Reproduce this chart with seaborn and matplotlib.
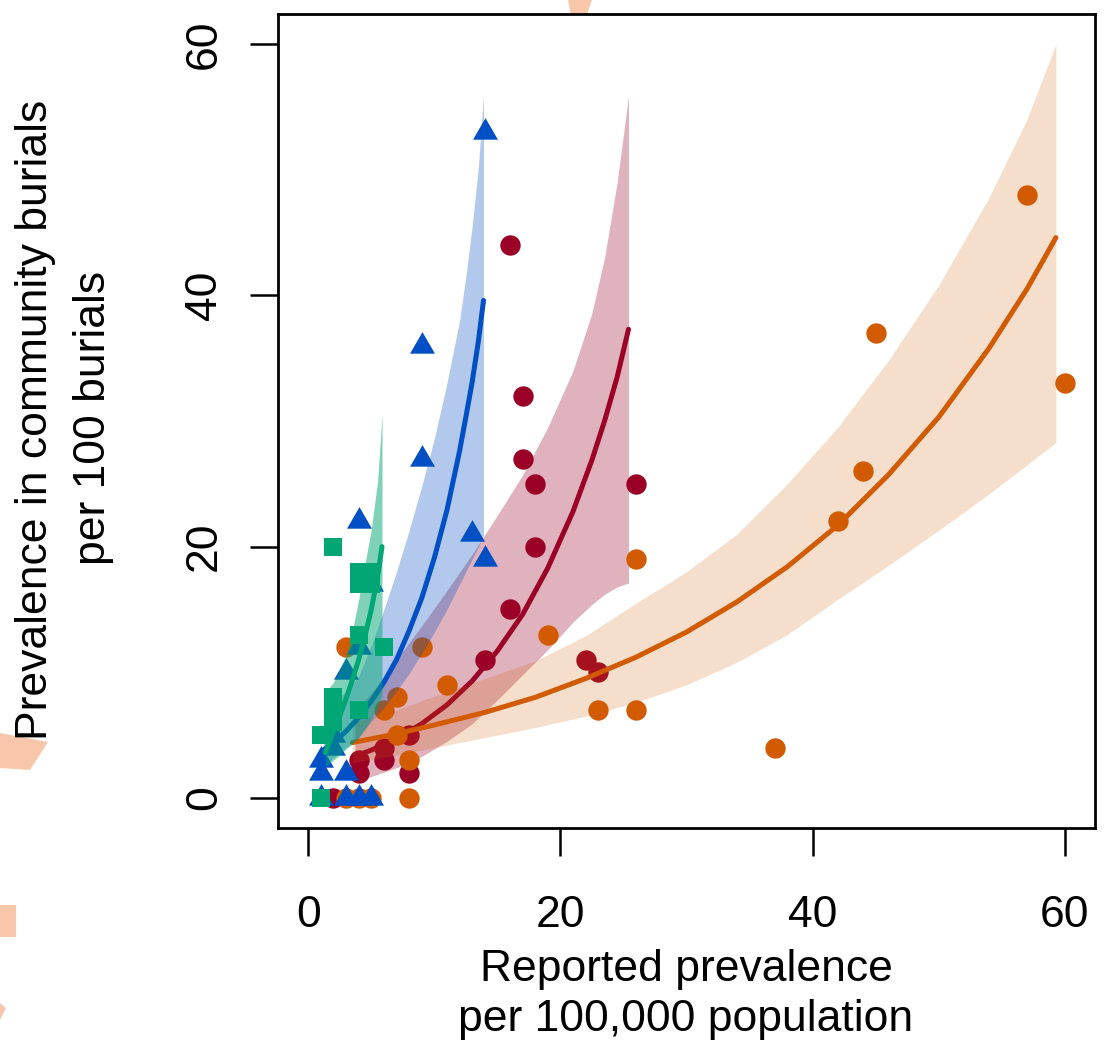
import numpy as np
import pandas as pd
import seaborn as sns
import matplotlib
matplotlib.use("Agg")
from matplotlib import pyplot as plt
from matplotlib.patches import Polygon
from matplotlib.path import Path

orange_x = [57, 60, 45, 44, 42, 37, 26, 26, 23, 19, 11, 9, 7, 6, 7, 8, 8, 3, 3, 4, 5]
orange_y = [48, 33, 37, 26, 22, 4, 19, 7, 7, 13, 9, 12, 8, 7, 5, 3, 0, 12, 0, 0, 0]
red_x = [16, 17, 17, 18, 18, 16, 14, 26, 22, 23, 8, 8, 6, 6, 4, 4, 2]
red_y = [44, 32, 27, 25, 20, 15, 11, 25, 11, 10, 5, 2, 4, 3, 3, 2, 0]
blue_x = [14, 9, 9, 13, 14, 4, 5, 4, 3, 1, 1, 2, 2, 3, 1, 3, 4, 5]
blue_y = [53, 36, 27, 21, 19, 22, 17, 12, 10, 3, 2, 5, 4, 2, 0, 0, 0, 0]
green_x = [2, 4, 5, 4, 5, 4, 6, 2, 2, 2, 4, 1, 1]
green_y = [20, 18, 18, 17, 17, 13, 12, 8, 7, 6, 7, 5, 0]

# fitted curves and confidence bands
orange_fx = [3.5, 7, 10, 14, 18, 22, 26, 30, 34, 38, 42, 46, 50, 54, 57, 59.3]
orange_fit = [4.4, 5.1, 5.8, 6.8, 8.0, 9.5, 11.2, 13.2, 15.6, 18.4, 21.7, 25.7, 30.3, 35.8, 40.5, 44.6]
orange_lo = [2.8, 3.4, 4.0, 4.8, 5.6, 6.5, 7.6, 9.0, 10.8, 13.0, 15.8, 18.5, 21.3, 24.2, 26.5, 28.3]
orange_hi = [6.0, 7.0, 8.1, 9.5, 10.9, 12.9, 15.5, 18.0, 21.0, 25.0, 29.5, 34.8, 40.8, 47.8, 54.0, 60.0]

red_fx = [3.7, 5, 7, 9, 11, 13, 15, 17, 19, 21, 22.5, 23.5, 24.5, 25.4]
red_fit = [3.3, 3.8, 4.7, 5.9, 7.4, 9.3, 11.7, 14.6, 18.3, 22.8, 26.9, 30.0, 33.5, 37.3]
red_lo = [1.3, 1.7, 2.4, 3.3, 4.5, 5.9, 7.8, 9.8, 11.8, 14.0, 15.4, 16.2, 16.8, 17.1]
red_hi = [7.0, 8.3, 11.0, 13.7, 16.5, 19.4, 22.5, 25.7, 29.5, 34.0, 38.6, 43.0, 49.0, 55.9]

blue_fx = [1.2, 2, 3, 4, 5, 6, 7, 8, 9, 10, 11, 12, 12.5, 13, 13.5, 13.9]
blue_fit = [3.8, 4.4, 5.3, 6.4, 7.7, 9.2, 11.0, 13.3, 15.9, 19.1, 22.9, 27.6, 30.3, 33.1, 36.4, 39.6]
blue_lo = [2.5, 3.2, 4.0, 4.8, 6.1, 7.2, 8.5, 9.9, 11.5, 13.2, 15.0, 17.0, 18.0, 19.0, 20.0, 20.9]
blue_hi = [6.8, 7.5, 8.5, 9.7, 12.1, 15.0, 18.0, 21.3, 24.8, 28.6, 33.0, 38.0, 41.5, 45.5, 50.3, 56.0]

green_fx = [1.35, 2, 2.5, 3, 3.5, 4, 4.5, 5, 5.5, 5.85]
green_fit = [3.6, 5.3, 6.5, 7.9, 9.4, 11.0, 12.9, 15.0, 17.6, 20.0]
green_lo = [2.5, 3.0, 3.4, 3.9, 4.3, 4.8, 5.5, 6.3, 7.2, 8.1]
green_hi = [8.4, 9.2, 10.2, 11.4, 13.3, 15.8, 18.6, 21.4, 25.2, 30.5]

ticks = [0, 20, 40, 60]

sns.set_style("white")
plt.rcParams['font.family'] = ['Liberation Sans', 'DejaVu Sans']
plt.rcParams['text.color'] = 'black'

W, H = 1104, 1044
fig = plt.figure(figsize=(W / 100, H / 100), dpi=100)
ax = fig.add_axes([278 / W, 1 - 828 / H, (1095 - 278) / W, (828 - 14) / H])

# equilateral triangle like R's pch 17
tri = Path([(-1, -0.577), (1, -0.577), (0, 1.155), (-1, -0.577)],
           [Path.MOVETO, Path.LINETO, Path.LINETO, Path.CLOSEPOLY])


def draw_group(i, px, py, fx, fit, lo, hi, color, marker, size, alpha):
    z = 1 + 3 * i
    ax.fill_between(fx, lo, hi, color=color, alpha=alpha, linewidth=0, zorder=z)
    sns.scatterplot(x=px, y=py, ax=ax, color=color, marker=marker, s=size,
                    linewidth=0, zorder=z + 1)
    sns.lineplot(x=fx, y=fit, ax=ax, color=color, linewidth=3.6, estimator=None,
                 sort=False, solid_capstyle='round', zorder=z + 2)


draw_group(0, red_x, red_y, red_fx, red_fit, red_lo, red_hi, '#9B0026', 'o', 215, 0.3)
draw_group(1, orange_x, orange_y, orange_fx, orange_fit, orange_lo, orange_hi, '#D25A00', 'o', 215, 0.2)
draw_group(2, blue_x, blue_y, blue_fx, blue_fit, blue_lo, blue_hi, '#004FC4', tri, 430, 0.3)
draw_group(3, green_x, green_y, green_fx, green_fit, green_lo, green_hi, '#00A673', 's', 170, 0.5)

ax.set_xlim(-2.4, 62.4)
ax.set_ylim(-2.4, 62.4)
ax.set_xticks(ticks)
ax.set_yticks(ticks)
ax.set_xticklabels([str(t) for t in ticks])
ax.set_yticklabels([str(t) for t in ticks], rotation=90, va='center')
ax.tick_params(axis='both', direction='out', length=20, width=1.8, labelsize=32,
               color='black', labelcolor='black')
ax.tick_params(axis='x', pad=28)
ax.tick_params(axis='y', pad=18)
ax.tick_params(bottom=True, left=True)
for s in ax.spines.values():
    s.set_visible(True)
    s.set_color('black')
    s.set_linewidth(2.0)
ax.set_xlabel('')
ax.set_ylabel('')

fig.text(686 / W, 1 - 970 / H, 'Reported prevalence', ha='center', va='center',
         fontsize=32, color='black')
fig.text(686 / W, 1 - 1020 / H, 'per 100,000 population', ha='center', va='center',
         fontsize=32, color='black')
fig.text(36 / W, 1 - 420 / H, 'Prevalence in community burials', ha='center', va='center',
         rotation=90, fontsize=32, color='black')
fig.text(94 / W, 1 - 418 / H, 'per 100 burials', ha='center', va='center',
         rotation=90, fontsize=32, color='black')

# faint background shapes at the page edge
peach = '#F8C7AB'
for pts in [[(0, 733), (48, 742), (30, 770), (0, 768)],
            [(0, 905), (16, 905), (16, 937), (0, 937)],
            [(0, 1003), (6, 1008), (0, 1020)],
            [(568, 0), (592, 0), (585, 20), (572, 22)]]:
    fig.patches.append(Polygon([(x / W, 1 - y / H) for x, y in pts], closed=True,
                               transform=fig.transFigure, facecolor=peach,
                               edgecolor='none', zorder=-1))

fig.savefig('out.png', dpi=100, facecolor='white')
